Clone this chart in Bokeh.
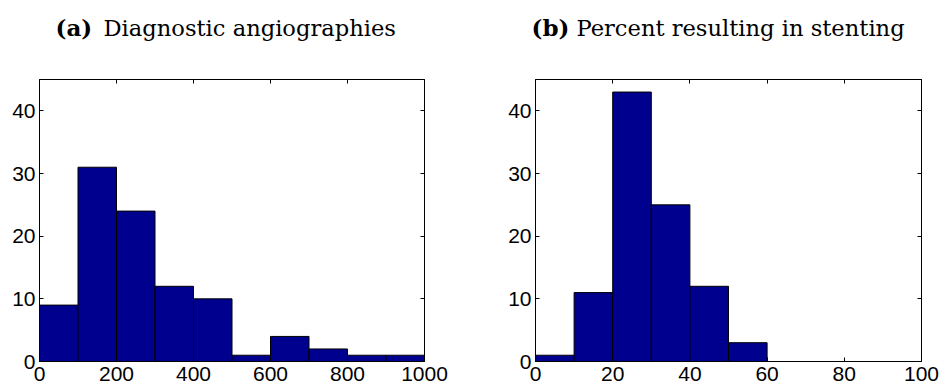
from bokeh.plotting import figure
from bokeh.models import Range1d, FixedTicker, LinearAxis, CustomJSTickFormatter
from bokeh.layouts import row, column
from bokeh.core.properties import value
from bokeh.embed import file_html
from bokeh.resources import INLINE

# ---- data ----
edges_a = [0, 100, 200, 300, 400, 500, 600, 700, 800, 900, 1000]
counts_a = [9, 31, 24, 12, 10, 1, 4, 2, 1, 1]
xticks_a = [0, 200, 400, 600, 800, 1000]

edges_b = [0, 10, 20, 30, 40, 50, 60, 70, 80, 90, 100]
counts_b = [1, 11, 43, 25, 12, 3, 0, 0, 0, 0]
xticks_b = [0, 20, 40, 60, 80, 100]

yticks = [0, 10, 20, 30, 40]
ymax = 45

tags = ["(a)", "(b)"]
titles = ["Diagnostic angiographies", "Percent resulting in stenting"]

BAR = "#00008F"
TICK_FONT = "Liberation Sans"
TITLE_FONT = "DejaVu Serif"
W = 940
TITLE_H = 60
PLOT_H = 387 - TITLE_H

# title strip (pixel coordinates, y downwards)
tf = figure(width=W, height=TITLE_H, output_backend="svg", toolbar_location=None,
            x_range=Range1d(0, W), y_range=Range1d(TITLE_H, 0),
            x_axis_type=None, y_axis_type=None, min_border=0)
tf.grid.visible = False
tf.outline_line_color = None
tf.text(x=[55, 531], y=[27, 27], text=tags, text_font=value(TITLE_FONT),
        text_font_style="bold", text_font_size="23px", text_color="black",
        text_align="left", text_baseline="alphabetic")
tf.text(x=[103, 576], y=[27, 27], text=titles, text_font=value(TITLE_FONT),
        text_font_style="normal", text_font_size="22.6px", text_color="black",
        text_align="left", text_baseline="alphabetic")


def panel(edges, counts, xticks, width, bl, br):
    p = figure(width=width, height=PLOT_H, output_backend="svg", toolbar_location=None,
               x_range=Range1d(edges[0], edges[-1]), y_range=Range1d(0, ymax),
               min_border_left=bl, min_border_right=br, min_border_top=79 - TITLE_H,
               min_border_bottom=26, x_axis_location="below", y_axis_location="left")
    p.grid.visible = False
    p.outline_line_color = "black"
    p.outline_line_width = 1
    p.background_fill_color = "white"
    p.border_fill_color = "white"

    p.quad(left=edges[:-1], right=edges[1:], top=counts, bottom=0,
           fill_color=BAR, line_color="black", line_width=1)

    for ax, ticks in ((p.xaxis[0], xticks), (p.yaxis[0], yticks)):
        ax.ticker = FixedTicker(ticks=ticks)
        ax.major_tick_in = 4
        ax.major_tick_out = 0
        ax.minor_tick_line_color = None
        ax.major_tick_line_color = "black"
        ax.axis_line_color = "black"
        ax.major_label_text_font = TICK_FONT
        ax.major_label_text_font_size = "21px"
        ax.major_label_text_color = "black"
    p.xaxis[0].major_label_standoff = 5
    p.yaxis[0].major_label_standoff = 4

    blank = CustomJSTickFormatter(code="return '';")
    top = LinearAxis(ticker=FixedTicker(ticks=xticks), formatter=blank,
                     major_tick_in=4, major_tick_out=0, minor_tick_line_color=None,
                     axis_line_color="black", major_tick_line_color="black",
                     major_label_standoff=0)
    right = LinearAxis(ticker=FixedTicker(ticks=yticks), formatter=blank,
                       major_tick_in=4, major_tick_out=0, minor_tick_line_color=None,
                       axis_line_color="black", major_tick_line_color="black",
                       major_label_standoff=0)
    p.add_layout(top, "above")
    p.add_layout(right, "right")
    return p


p1 = panel(edges_a, counts_a, xticks_a, 470, 39, 46)
p2 = panel(edges_b, counts_b, xticks_b, 470, 65, 19)

layout = column(tf, row(p1, p2))
open("out.html", "w").write(file_html(layout, INLINE))
